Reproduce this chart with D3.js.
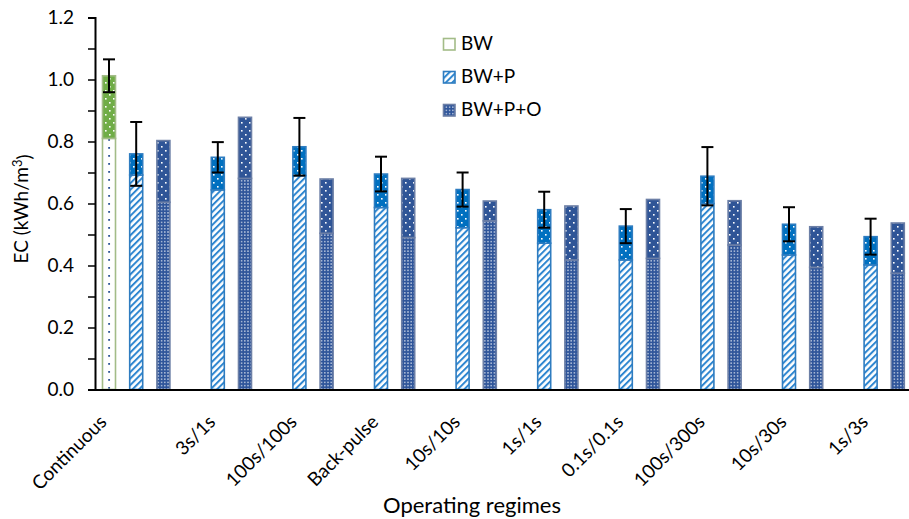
<!DOCTYPE html>
<html>
<head>
<meta charset="utf-8">
<script src="https://cdn.jsdelivr.net/npm/d3@7"></script>
<style>
  html, body { margin: 0; padding: 0; background: #fff; }
  svg { display: block; }
  text { font-family: Lato, "Open Sans", sans-serif; fill: #000; }
</style>
</head>
<body>
<svg id="chart" width="909" height="519"></svg>
<script>
// Operating regimes on the category axis
const categories = ["Continuous", "3s/1s", "100s/100s", "Back-pulse", "10s/10s",
                    "1s/1s", "0.1s/0.1s", "100s/300s", "10s/30s", "1s/3s"];
const seriesNames = ["BW", "BW+P", "BW+P+O"];

// Energy consumption (kWh/m3): lower segment and stack total for each series
const bwLower    = [0.810, null, null, null, null, null, null, null, null, null];
const bwTotal    = [1.012, null, null, null, null, null, null, null, null, null];
const bwError    = [0.053, null, null, null, null, null, null, null, null, null];

const bwpLower   = [0.692, 0.644, 0.690, 0.587, 0.522, 0.472, 0.418, 0.600, 0.434, 0.402];
const bwpTotal   = [0.760, 0.749, 0.783, 0.695, 0.645, 0.580, 0.527, 0.688, 0.533, 0.493];
const bwpError   = [0.103, 0.049, 0.093, 0.056, 0.055, 0.058, 0.055, 0.094, 0.055, 0.058];

const bwpoLower  = [0.604, 0.681, 0.504, 0.490, 0.544, 0.418, 0.423, 0.466, 0.394, 0.375];
const bwpoTotal  = [0.803, 0.878, 0.679, 0.681, 0.608, 0.592, 0.613, 0.609, 0.525, 0.537];
const bwpoError  = [null, null, null, null, null, null, null, null, null, null];

const yTicks = [0, 0.1, 0.2, 0.3, 0.4, 0.5, 0.6, 0.7, 0.8, 0.9, 1.0, 1.1, 1.2];

const svg = d3.select("#chart");

// ---- fill patterns ----
const defs = svg.append("defs");
function dotPattern(id, bg, dot, size) {
  const p = defs.append("pattern").attr("id", id)
    .attr("patternUnits", "userSpaceOnUse").attr("width", size).attr("height", size);
  p.append("rect").attr("width", size).attr("height", size).attr("fill", bg);
  p.append("rect").attr("x", 1).attr("y", 2).attr("width", 1.6).attr("height", 1.6).attr("fill", dot);
  p.append("rect").attr("x", size / 2 + 1).attr("y", size / 2 + 2).attr("width", 1.6).attr("height", 1.6).attr("fill", dot);
}
dotPattern("bwTop", "#70AD47", "#ffffff", 8);
dotPattern("bwpTop", "#0070C0", "#ffffff", 8);
dotPattern("bwpoTop", "#2F5597", "#ffffff", 8);

// sparse single column of dots on white
const bwLowPat = defs.append("pattern").attr("id", "bwLow")
  .attr("patternUnits", "userSpaceOnUse").attr("width", 27.2).attr("height", 8)
  .attr("x", 95.4);
bwLowPat.append("rect").attr("width", 27.2).attr("height", 8).attr("fill", "#fff");
bwLowPat.append("rect").attr("x", 12.8).attr("y", 3).attr("width", 1.8).attr("height", 1.8).attr("fill", "#2F5597");

// wide upward diagonal hatch
const hatch = defs.append("pattern").attr("id", "bwpLow")
  .attr("patternUnits", "userSpaceOnUse").attr("width", 4.6).attr("height", 4.6)
  .attr("patternTransform", "rotate(45)");
hatch.append("rect").attr("width", 4.6).attr("height", 4.6).attr("fill", "#fff");
hatch.append("line").attr("x1", 1).attr("y1", 0).attr("x2", 1).attr("y2", 4.6)
  .attr("stroke", "#2E86D0").attr("stroke-width", 2);

// dense grid of small white dots on dark blue
const grid = defs.append("pattern").attr("id", "bwpoLow")
  .attr("patternUnits", "userSpaceOnUse").attr("width", 3.2).attr("height", 3.2);
grid.append("rect").attr("width", 3.2).attr("height", 3.2).attr("fill", "#2F559A");
grid.append("rect").attr("x", 1).attr("y", 1).attr("width", 1.2).attr("height", 1.2).attr("fill", "#ffffff");

// ---- scales ----
const y = d3.scaleLinear().domain([0, 1.2]).range([389.5, 17.5]);
const x0 = d3.scaleBand().domain(categories).range([95.4, 911.4]).paddingInner(0).paddingOuter(0);
const x1 = d3.scaleBand().domain(seriesNames).range([0, x0.bandwidth()]).padding(0);
const barW = 13;

const series = [
  { name: "BW",     lower: bwLower,   total: bwTotal,   error: bwError,   low: "url(#bwLow)",   top: "url(#bwTop)",   stroke: "#A3BC88" },
  { name: "BW+P",   lower: bwpLower,  total: bwpTotal,  error: bwpError,  low: "url(#bwpLow)",  top: "url(#bwpTop)",  stroke: "#2E7CC0" },
  { name: "BW+P+O", lower: bwpoLower, total: bwpoTotal, error: bwpoError, low: "url(#bwpoLow)", top: "url(#bwpoTop)", stroke: "#6C7FA6" }
];

// ---- bars ----
const barsG = svg.append("g");
series.forEach(s => {
  const rows = categories.map((c, i) => ({ c, lo: s.lower[i], tot: s.total[i], err: s.error[i] }))
    .filter(d => d.tot != null);
  const cx = d => x0(d.c) + x1(s.name) + x1.bandwidth() / 2;
  const g = barsG.append("g");
  g.selectAll("rect.low").data(rows).join("rect")
    .attr("x", d => cx(d) - barW / 2).attr("width", barW)
    .attr("y", d => y(d.lo)).attr("height", d => y(0) - y(d.lo))
    .attr("fill", s.low).attr("stroke", s.stroke).attr("stroke-width", 1.6);
  g.selectAll("rect.top").data(rows).join("rect")
    .attr("x", d => cx(d) - barW / 2).attr("width", barW)
    .attr("y", d => y(d.tot)).attr("height", d => y(d.lo) - y(d.tot))
    .attr("fill", s.top).attr("stroke", s.stroke).attr("stroke-width", 1.6);
  // error bars on the stack total
  const eb = g.selectAll("g.err").data(rows.filter(d => d.err != null)).join("g");
  eb.append("line").attr("x1", cx).attr("x2", cx)
    .attr("y1", d => y(d.tot + d.err)).attr("y2", d => y(d.tot - d.err))
    .attr("stroke", "#000").attr("stroke-width", 2);
  [1, -1].forEach(sg => {
    eb.append("line").attr("x1", d => cx(d) - 6).attr("x2", d => cx(d) + 6)
      .attr("y1", d => y(d.tot + sg * d.err)).attr("y2", d => y(d.tot + sg * d.err))
      .attr("stroke", "#000").attr("stroke-width", 2);
  });
});

// ---- y axis ----
const yAxis = d3.axisLeft(y).tickValues(yTicks).tickSize(7).tickPadding(14)
  .tickFormat(v => (Math.round(v * 10) % 2 === 0) ? d3.format(".1f")(v) : "");
const yg = svg.append("g").attr("transform", "translate(95,0)").call(yAxis);
yg.select(".domain").attr("stroke", "#000").attr("stroke-width", 2);
yg.selectAll(".tick line").attr("stroke", "#000").attr("stroke-width", 1.5);
yg.selectAll(".tick text").style("font-size", "19px").attr("fill", "#000")
  .style("font-family", "Lato, 'Open Sans', sans-serif");

// ---- x axis ----
const xg = svg.append("g").attr("transform", `translate(0,${y(0)})`)
  .call(d3.axisBottom(x0).tickSize(0).tickSizeOuter(0).tickFormat(""));
xg.select(".domain").attr("stroke", "#000").attr("stroke-width", 2.2);

// category labels sit under the first bar of each group
const labelG = svg.append("g");
categories.forEach((c, i) => {
  const first = series.find(s => s.total[i] != null);
  const cx = x0(c) + x1(first.name) + x1.bandwidth() / 2;
  labelG.append("text")
    .attr("transform", `translate(${cx - 6},${y(0) + 29}) rotate(-45)`)
    .attr("text-anchor", "end").attr("dy", "0.35em")
    .style("font-size", "19px").text(c);
});

// ---- titles ----
svg.append("text").attr("x", 472).attr("y", 513).attr("text-anchor", "middle")
  .style("font-size", "22px").text("Operating regimes");
const yt = svg.append("text").attr("transform", "translate(28,209) rotate(-90)")
  .attr("text-anchor", "middle").style("font-size", "19px");
yt.append("tspan").text("EC (kWh/m");
yt.append("tspan").attr("dy", "-0.45em").style("font-size", "13px").text("3");
yt.append("tspan").attr("dy", "0.45em").text(")");

// ---- legend ----
const lg = svg.append("g");
series.forEach((s, i) => {
  const ly = 38.5 + i * 33;
  lg.append("rect").attr("x", 443.5).attr("y", ly).attr("width", 11.5).attr("height", 11.5)
    .attr("fill", s.low).attr("stroke", s.stroke).attr("stroke-width", 1.6);
  lg.append("text").attr("x", 461).attr("y", ly + 11).style("font-size", "19px").text(s.name);
});
</script>
</body>
</html>
